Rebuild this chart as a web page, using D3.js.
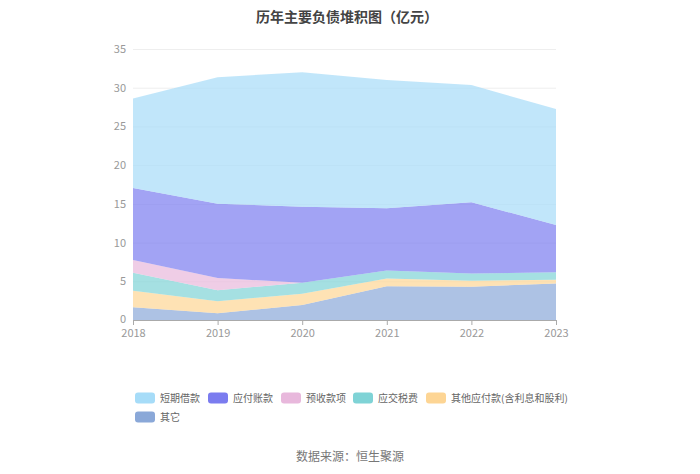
<!DOCTYPE html>
<html>
<head>
<meta charset="utf-8">
<script src="https://cdn.jsdelivr.net/npm/d3@7/dist/d3.min.js"></script>
<style>
  html, body { margin: 0; padding: 0; background: #fff; }
  svg { display: block; }
  text { font-family: "Noto Sans CJK SC", "Noto Sans", sans-serif; }
</style>
</head>
<body>
<svg id="chart" width="700" height="474"></svg>
<script>
const years = [2018, 2019, 2020, 2021, 2022, 2023];
const seriesNames = ["短期借款", "应付账款", "预收款项", "应交税费", "其他应付款(含利息和股利)", "其它"];
const shortLoans   = [11.55, 16.32, 17.36, 16.58, 15.15, 14.98];
const payables     = [9.30, 9.61, 9.84, 8.02, 9.20, 6.09];
const advances     = [1.65, 1.57, 0.00, 0.00, 0.00, 0.00];
const taxes        = [2.32, 1.43, 1.40, 1.05, 0.94, 0.98];
const otherPayable = [2.14, 1.56, 1.46, 1.00, 0.76, 0.50];
const others       = [1.64, 0.86, 1.94, 4.35, 4.30, 4.70];
const yTicks = [0, 5, 10, 15, 20, 25, 30, 35];

const colors = {
  "短期借款": "#a6dcf8",
  "应付账款": "#7b7cef",
  "预收款项": "#e8b8dc",
  "应交税费": "#7fd3d6",
  "其他应付款(含利息和股利)": "#fdd594",
  "其它": "#8aa8d8"
};

const valuesBy = {
  "短期借款": shortLoans,
  "应付账款": payables,
  "预收款项": advances,
  "应交税费": taxes,
  "其他应付款(含利息和股利)": otherPayable,
  "其它": others
};

const table = years.map((y, i) => {
  const row = { year: y };
  seriesNames.forEach(n => row[n] = valuesBy[n][i]);
  return row;
});

const stackKeys = seriesNames.slice().reverse(); // bottom to top
const stacked = d3.stack().keys(stackKeys)(table);

const svg = d3.select("#chart");
const x = d3.scaleLinear().domain([2018, 2023]).range([133, 556]);
const y = d3.scaleLinear().domain([0, 35]).range([320, 49]);

// title
svg.append("text").attr("x", 347).attr("y", 22).attr("text-anchor", "middle")
  .attr("font-size", 14).attr("font-weight", "bold").attr("fill", "#444")
  .text("历年主要负债堆积图（亿元）");

// grid
svg.append("g").selectAll("line").data(yTicks.filter(t => t > 0)).join("line")
  .attr("x1", 133).attr("x2", 556)
  .attr("y1", d => y(d) + 0.5).attr("y2", d => y(d) + 0.5)
  .attr("stroke", "#eeeeee").attr("stroke-width", 1);

// areas
const area = d3.area().x(d => x(d.data.year)).y0(d => y(d[0])).y1(d => y(d[1]));
svg.append("g").selectAll("path").data(stacked).join("path")
  .attr("d", area)
  .attr("fill", d => colors[d.key])
  .attr("fill-opacity", 0.7);

// y axis
const yAxis = d3.axisLeft(y).tickValues(yTicks).tickSize(0).tickPadding(7);
const gy = svg.append("g").attr("transform", "translate(133,0)").call(yAxis);
gy.select(".domain").remove();
gy.selectAll("text").attr("fill", "#999").attr("font-size", 11)
  .style("font-family", "'Noto Sans CJK SC', sans-serif");
gy.selectAll(".tick").filter(d => d === 0).select("text").attr("dy", "0.2em");

// x axis
const xAxis = d3.axisBottom(x).tickValues(years).tickFormat(d3.format("d")).tickSize(5).tickPadding(3);
const gx = svg.append("g").attr("transform", "translate(0,320)").call(xAxis);
gx.select(".domain").attr("stroke", "#aaa");
gx.selectAll(".tick line").attr("stroke", "#aaa");
gx.selectAll("text").attr("fill", "#999").attr("font-size", 11).attr("dy", "0.85em")
  .style("font-family", "'Noto Sans CJK SC', sans-serif");

// legend
const legendPos = [
  [135, 398], [208, 398], [281, 398], [353, 398], [426, 398], [135, 417]
];
const lg = svg.append("g");
seriesNames.forEach((n, i) => {
  const [lx, ly] = legendPos[i];
  lg.append("rect").attr("x", lx).attr("y", ly - 5.5).attr("width", 20).attr("height", 11)
    .attr("rx", 3).attr("fill", colors[n]);
  lg.append("text").attr("x", lx + 25).attr("y", ly + 4)
    .attr("font-size", 10).attr("fill", "#666").text(n);
});

// footer
svg.append("text").attr("x", 350).attr("y", 461).attr("text-anchor", "middle")
  .attr("font-size", 12).attr("fill", "#777").text("数据来源：恒生聚源");
</script>
</body>
</html>
